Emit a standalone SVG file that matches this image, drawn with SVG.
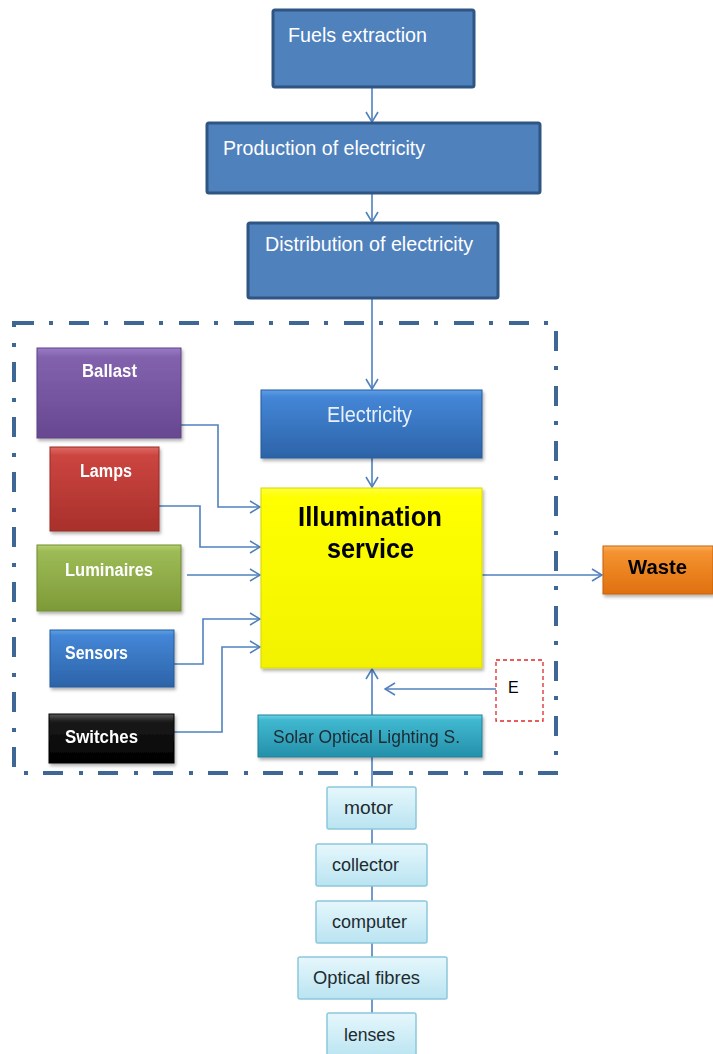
<svg xmlns="http://www.w3.org/2000/svg" width="713" height="1054" viewBox="0 0 713 1054">
<style>
.top{fill:#4f81bd;stroke:#2f5583;stroke-width:3}
.tt{font-family:"Liberation Sans",Arial,sans-serif;font-size:21px;fill:#ffffff}
.lt{font-family:"Liberation Sans",Arial,sans-serif;font-size:18px;font-weight:bold;fill:#ffffff}
.ct{font-family:"Liberation Sans",Arial,sans-serif;font-size:18px;fill:#1f2a30}
.con{fill:none;stroke:#4f81bd;stroke-width:1.6}
.arr{marker-end:url(#ah)}
.sub{fill:url(#gCyan);stroke:#8cc8dc;stroke-width:1.5}
</style>
<defs>
<marker id="ah" viewBox="0 0 12 14" refX="11" refY="7" markerWidth="12" markerHeight="14" markerUnits="userSpaceOnUse" orient="auto">
<path d="M1,1 L11,7 L1,13" fill="none" stroke="#4f81bd" stroke-width="1.6"/>
</marker>
<filter id="sh" x="-10%" y="-10%" width="125%" height="130%">
<feDropShadow dx="1.5" dy="2.5" stdDeviation="1.5" flood-color="#000" flood-opacity="0.3"/>
</filter>
<linearGradient id="gPurple" x1="0" y1="0" x2="0" y2="1"><stop offset="0" stop-color="#9a7cc6"/><stop offset="0.1" stop-color="#8262ad"/><stop offset="1" stop-color="#684791"/></linearGradient>
<linearGradient id="gRed" x1="0" y1="0" x2="0" y2="1"><stop offset="0" stop-color="#e06a66"/><stop offset="0.1" stop-color="#cc4540"/><stop offset="1" stop-color="#a8302b"/></linearGradient>
<linearGradient id="gGreen" x1="0" y1="0" x2="0" y2="1"><stop offset="0" stop-color="#b4d06c"/><stop offset="0.1" stop-color="#9dbb55"/><stop offset="1" stop-color="#7d9a38"/></linearGradient>
<linearGradient id="gBlue" x1="0" y1="0" x2="0" y2="1"><stop offset="0" stop-color="#5ea0e6"/><stop offset="0.1" stop-color="#4486d6"/><stop offset="1" stop-color="#2c63a8"/></linearGradient>
<linearGradient id="gBlack" x1="0" y1="0" x2="0" y2="1"><stop offset="0" stop-color="#5a5a5a"/><stop offset="0.15" stop-color="#1a1a1a"/><stop offset="1" stop-color="#000"/></linearGradient>
<linearGradient id="gOrange" x1="0" y1="0" x2="0" y2="1"><stop offset="0" stop-color="#fbb060"/><stop offset="0.12" stop-color="#f59331"/><stop offset="1" stop-color="#e0700e"/></linearGradient>
<linearGradient id="gTeal" x1="0" y1="0" x2="0" y2="1"><stop offset="0" stop-color="#6fd4e6"/><stop offset="0.12" stop-color="#40b8d0"/><stop offset="1" stop-color="#2590aa"/></linearGradient>
<linearGradient id="gYellow" x1="0" y1="0" x2="0" y2="1"><stop offset="0" stop-color="#ffff40"/><stop offset="0.05" stop-color="#ffff00"/><stop offset="1" stop-color="#f2f200"/></linearGradient>
<linearGradient id="gCyan" x1="0" y1="0" x2="0" y2="1"><stop offset="0" stop-color="#e6f7fc"/><stop offset="1" stop-color="#b9e4f1"/></linearGradient>
</defs>

<rect x="14" y="323" width="542" height="450" fill="none" stroke="#3f6796" stroke-width="4" stroke-dasharray="20 15 4 16"/>

<g id="connectors">
<line class="con arr" x1="372" y1="87" x2="372" y2="122"/>
<line class="con arr" x1="372" y1="193" x2="372" y2="222"/>
<line class="con arr" x1="372" y1="298" x2="372" y2="389"/>
<line class="con arr" x1="372" y1="458" x2="372" y2="487"/>
<polyline class="con arr" points="181,425 218,425 218,507 260,507"/>
<polyline class="con arr" points="159,506 200,506 200,547 260,547"/>
<polyline class="con arr" points="187,575 260,575"/>
<polyline class="con arr" points="174,664 203,664 203,619 260,619"/>
<polyline class="con arr" points="174,732 222,732 222,647 260,647"/>
<line class="con arr" x1="482" y1="575" x2="602" y2="575"/>
<line class="con arr" x1="496" y1="689" x2="385" y2="689"/>
<line class="con arr" x1="372" y1="715" x2="372" y2="669"/>
<line class="con" x1="372" y1="757" x2="372" y2="1054"/>
</g>

<g id="fuels"><rect class="top" x="273" y="10" width="201" height="77" rx="2"/><text class="tt" x="288" y="42" textLength="139" lengthAdjust="spacingAndGlyphs">Fuels extraction</text></g>
<g id="production"><rect class="top" x="207" y="123" width="333" height="70" rx="2"/><text class="tt" x="223" y="155" textLength="202" lengthAdjust="spacingAndGlyphs">Production of electricity</text></g>
<g id="distribution"><rect class="top" x="248" y="223" width="250" height="75" rx="2"/><text class="tt" x="265" y="251" textLength="208" lengthAdjust="spacingAndGlyphs">Distribution of electricity</text></g>

<g id="ballast" filter="url(#sh)"><rect x="37" y="348" width="144" height="90" fill="url(#gPurple)" stroke="#5e4386" stroke-width="1"/><text class="lt" x="82" y="377" textLength="55" lengthAdjust="spacingAndGlyphs">Ballast</text></g>
<g id="lamps" filter="url(#sh)"><rect x="50" y="447" width="109" height="84" fill="url(#gRed)" stroke="#962a26" stroke-width="1"/><text class="lt" x="80" y="477" textLength="52" lengthAdjust="spacingAndGlyphs">Lamps</text></g>
<g id="luminaires" filter="url(#sh)"><rect x="37" y="545" width="144" height="66" fill="url(#gGreen)" stroke="#718c33" stroke-width="1"/><text class="lt" x="65" y="576" textLength="88" lengthAdjust="spacingAndGlyphs">Luminaires</text></g>
<g id="sensors" filter="url(#sh)"><rect x="50" y="630" width="124" height="57" fill="url(#gBlue)" stroke="#275a99" stroke-width="1"/><text class="lt" x="65" y="659" textLength="63" lengthAdjust="spacingAndGlyphs">Sensors</text></g>
<g id="switches" filter="url(#sh)"><rect x="49" y="714" width="125" height="49" fill="url(#gBlack)" stroke="#000" stroke-width="1"/><text class="lt" x="65" y="743" textLength="73" lengthAdjust="spacingAndGlyphs">Switches</text></g>

<g id="electricity" filter="url(#sh)"><rect x="261" y="390" width="221" height="68" fill="url(#gBlue)" stroke="#275a99" stroke-width="1"/><text class="tt" x="327" y="422" textLength="85" lengthAdjust="spacingAndGlyphs" style="font-size:22px;fill:#e8f0fa">Electricity</text></g>
<g id="illumination" filter="url(#sh)"><rect x="261" y="488" width="221" height="180" fill="url(#gYellow)" stroke="#d8d800" stroke-width="1"/>
<text x="298" y="526" textLength="144" lengthAdjust="spacingAndGlyphs" style="font-family:'Liberation Sans',Arial,sans-serif;font-size:27px;font-weight:bold;fill:#000">Illumination</text>
<text x="327" y="558" textLength="87" lengthAdjust="spacingAndGlyphs" style="font-family:'Liberation Sans',Arial,sans-serif;font-size:27px;font-weight:bold;fill:#000">service</text></g>
<g id="waste" filter="url(#sh)"><rect x="603" y="546" width="110" height="48" fill="url(#gOrange)" stroke="#c8600a" stroke-width="1"/><text x="628" y="574" textLength="59" lengthAdjust="spacingAndGlyphs" style="font-family:'Liberation Sans',Arial,sans-serif;font-size:20px;font-weight:bold;fill:#000">Waste</text></g>
<g id="e"><rect x="496" y="660" width="47" height="61" fill="#fff" stroke="#e0282a" stroke-width="1.3" stroke-dasharray="4 3"/><text x="508" y="693" style="font-family:'Liberation Sans',Arial,sans-serif;font-size:16px;fill:#000">E</text></g>
<g id="solar" filter="url(#sh)"><rect x="258" y="715" width="224" height="42" fill="url(#gTeal)" stroke="#1f8098" stroke-width="1"/><text class="ct" x="273" y="743" textLength="187" lengthAdjust="spacingAndGlyphs">Solar Optical Lighting S.</text></g>

<g id="motor"><rect class="sub" x="327" y="787" width="89" height="42" rx="2"/><text class="ct" x="344" y="814" textLength="49" lengthAdjust="spacingAndGlyphs">motor</text></g>
<g id="collector"><rect class="sub" x="316" y="844" width="111" height="42" rx="2"/><text class="ct" x="332" y="871" textLength="67" lengthAdjust="spacingAndGlyphs">collector</text></g>
<g id="computer"><rect class="sub" x="316" y="901" width="111" height="42" rx="2"/><text class="ct" x="332" y="928" textLength="75" lengthAdjust="spacingAndGlyphs">computer</text></g>
<g id="optical"><rect class="sub" x="298" y="957" width="149" height="42" rx="2"/><text class="ct" x="313" y="984" textLength="107" lengthAdjust="spacingAndGlyphs">Optical fibres</text></g>
<g id="lenses"><rect class="sub" x="327" y="1013" width="89" height="45" rx="2"/><text class="ct" x="344" y="1041" textLength="51" lengthAdjust="spacingAndGlyphs">lenses</text></g>
</svg>
